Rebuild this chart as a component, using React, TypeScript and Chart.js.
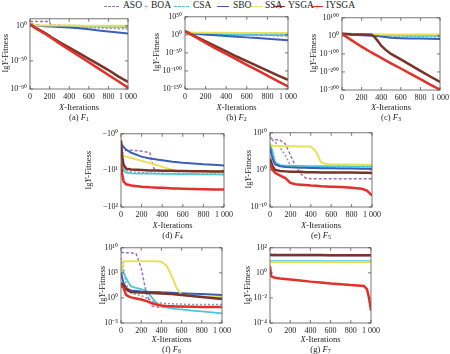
import React, { useEffect, useRef } from "react";
import { Chart, registerables } from "chart.js";
Chart.register(...registerables);

const FONT = "'Liberation Serif', 'Times New Roman', serif";

const SERIES = ["ASO", "BOA", "CSA", "SBO", "SSA", "YSGA", "IYSGA"];
const COLORS = ["#9c6fb6", "#8a93ad", "#4cc6d8", "#3a5fb6", "#e4e25a", "#7a3328", "#e2302b"];
const DASHES = [[3, 2], [2, 2], [], [], [], [], []];
const WIDTHS = [1.5, 1.5, 1.8, 2, 2, 2.5, 2.5];

const X_TICKS = [0, 200, 400, 600, 800, 1000];
const X_TICK_LABELS = ["0", "200", "400", "600", "800", "1 000"];

// (a) F1
const XA = [0, 50, 100, 150, 195, 215, 300, 400, 500, 600, 700, 800, 900, 1000];
const A_ASO = [1e6, 1e6, 1e6, 1e6, 1e6, 1e1, 5, 3, 2, 1.5, 1.2, 1, 1, 1];
const A_BOA = [1e3, 1e1, 1e0, 5e-1, 3e-1, 3e-1, 1e-1, 3e-2, 1e-2, 3e-3, 1e-3, 3e-4, 1e-4, 3e-5];
const A_CSA = [1e3, 1e1, 1e0, 8e-1, 7e-1, 7e-1, 5e-1, 3e-1, 2e-1, 1e-1, 7e-2, 5e-2, 3e-2, 2e-2];
const A_SBO = [1e3, 1e1, 1e0, 3e-1, 1e-1, 1e-1, 3e-2, 3e-3, 3e-4, 1e-5, 3e-7, 1e-8, 3e-10, 1e-11];
const A_SSA = [1e3, 1e1, 3, 2, 2, 2, 2, 2, 1.5, 1.5, 1.2, 1, 1, 1];
const A_YSGA = [1e2, 1e-2, 1e-6, 1e-10, 1e-14, 1e-16, 1e-23, 1e-31, 1e-39, 1e-47, 1e-55, 1e-63, 1e-72, 1e-80];
const A_IYSGA = [1e2, 1e-3, 1e-7, 1e-11, 1e-15, 1e-17, 1e-25, 1e-34, 1e-43, 1e-52, 1e-61, 1e-70, 1e-79, 1e-88];
const A_YTICKS = [1e0, 1e-50, 1e-90];

// (b) F2
const XB = [0, 50, 100, 200, 300, 400, 500, 600, 700, 800, 900, 1000];
const B_ASO = [1e9, 1e6, 1e5, 1e4, 1e3, 1e3, 1e2, 1e2, 1e2, 1e2, 1e2, 1e2];
const B_BOA = [1e9, 1e4, 1e3, 1e1, 1e0, 1e0, 1e-1, 1e-1, 1e-2, 1e-2, 1e-3, 1e-3];
const B_CSA = [1e9, 1e4, 1e2, 1e1, 1e1, 1e0, 1e0, 1e0, 1e-1, 1e-1, 1e-1, 1e-1];
const B_SBO = [1e9, 1e5, 1e3, 1e1, 1e-1, 1e-3, 1e-5, 1e-7, 1e-9, 1e-11, 1e-13, 1e-15];
const B_SSA = [1e9, 1e7, 1e6, 1e6, 1e6, 1e6, 1e5, 1e5, 1e5, 1e5, 1e5, 1e5];
const B_YSGA = [1e10, 1e3, 1e-4, 1e-18, 1e-32, 1e-46, 1e-60, 1e-73, 1e-86, 1e-99, 1e-112, 1e-125];
const B_IYSGA = [1e10, 1e2, 1e-6, 1e-22, 1e-38, 1e-53, 1e-68, 1e-83, 1e-98, 1e-113, 1e-128, 1e-143];
const B_YTICKS = [1e50, 1e0, 1e-50, 1e-100, 1e-150];

// (c) F3
const XC = [0, 100, 200, 300, 330, 360, 400, 440, 500, 600, 700, 800, 900, 1000];
const C_ASO = [1e12, 1e9, 1e8, 1e7, 1e7, 1e7, 1e6, 1e6, 1e6, 1e5, 1e5, 1e5, 1e5, 1e5];
const C_BOA = [1e12, 1e8, 1e6, 1e4, 1e4, 1e3, 1e2, 1e1, 1e0, 1e-1, 1e-2, 1e-3, 1e-4, 1e-5];
const C_CSA = [1e12, 1e9, 1e7, 1e5, 1e5, 1e4, 1e3, 1e3, 1e2, 1e1, 1e0, 1e0, 1e0, 1e0];
const C_SBO = [1e12, 1e6, 1e3, 1e1, 1e0, 1e-1, 1e-3, 1e-6, 1e-11, 1e-13, 1e-14, 1e-15, 1e-16, 1e-17];
const C_SSA = [1e12, 1e10, 1e9, 1e9, 1e9, 1e9, 1e8, 1e8, 1e8, 1e8, 1e8, 1e8, 1e8, 1e8];
const C_YSGA = [1e12, 1e9, 1e8, 1e6, 1e-5, 1e-25, 1e-55, 1e-75, 1e-100, 1e-130, 1e-162, 1e-194, 1e-225, 1e-255];
const C_IYSGA = [1e10, 1e-25, 1e-60, 1e-92, 1e-101, 1e-110, 1e-122, 1e-134, 1e-152, 1e-181, 1e-211, 1e-240, 1e-270, 1e-298];
const C_YTICKS = [1e100, 1e0, 1e-100, 1e-200, 1e-300];

// (d) F4 (magnitudes of negative fitness)
const XD = [0, 10, 25, 50, 100, 200, 280, 320, 360, 400, 500, 550, 600, 700, 800, 900, 1000];
const D_ASO = [5, 3.5, 3, 2.8, 2.8, 3, 3.3, 9, 10.2, 10.3, 10.4, 10.5, 10.5, 10.6, 10.7, 10.7, 10.8];
const D_BOA = [3, 5, 8, 10, 11, 11.5, 11.8, 12, 12, 12, 12.2, 12.2, 12.3, 12.4, 12.5, 12.6, 12.7];
const D_CSA = [2.5, 6, 10, 11.5, 12, 12.2, 12.3, 12.3, 12.4, 12.4, 12.5, 12.6, 12.6, 12.7, 12.8, 12.9, 13];
const D_SBO = [1.8, 2, 2.3, 2.7, 3.3, 4.2, 4.7, 4.9, 5.1, 5.3, 5.8, 6, 6.2, 6.5, 6.8, 7, 7.3];
const D_SSA = [3, 3.5, 4, 4.2, 4.6, 5.5, 6.3, 6.8, 7.3, 8, 9.8, 10.3, 10.4, 10.5, 10.6, 10.7, 10.8];
const D_YSGA = [1.5, 4, 7, 9, 9.5, 9.8, 10, 10, 10, 10.2, 10.3, 10.4, 10.4, 10.5, 10.6, 10.7, 10.8];
const D_IYSGA = [6, 12, 20, 24, 26, 28, 29, 29.3, 29.6, 30, 31, 31.3, 31.5, 32, 32.5, 33, 33];
const D_YTICKS = [1, 10, 100];

// (e) F5
const XE = [0, 25, 50, 100, 150, 200, 250, 300, 350, 400, 450, 500, 550, 600, 700, 800, 900, 950, 1000];
const E_ASO = [3e8, 2e8, 1.5e8, 1e8, 1e7, 1e4, 1e1, 1e-1, 6e-3, 4e-3, 4e-3, 4e-3, 4e-3, 4e-3, 4e-3, 4e-3, 4e-3, 4e-3, 4e-3];
const E_BOA = [1e9, 1e8, 3e7, 1e6, 1e4, 15, 6, 5, 4.5, 4, 4, 3.5, 3.5, 3.5, 3, 3, 3, 3, 3];
const E_CSA = [1e7, 1e5, 1e2, 20, 15, 13, 12, 12, 11, 11, 11, 10, 10, 10, 10, 9, 9, 9, 9];
const E_SBO = [1e6, 1e3, 30, 10, 6, 5, 4.5, 4, 4, 3.5, 3.5, 3, 3, 3, 2.5, 2.5, 2, 2, 2];
const E_SSA = [1e7, 3e6, 3e6, 2.5e6, 2.5e6, 2.5e6, 2.5e6, 2e6, 2e6, 2e6, 1e5, 1e2, 40, 30, 30, 30, 25, 25, 25];
const E_YSGA = [1e3, 10, 1, 0.5, 0.4, 0.3, 0.3, 0.3, 0.25, 0.25, 0.25, 0.2, 0.2, 0.2, 0.2, 0.2, 0.16, 0.16, 0.15];
const E_IYSGA = [30, 1, 0.16, 3e-2, 6e-3, 3e-4, 1.3e-4, 1e-4, 8e-5, 6e-5, 5e-5, 4e-5, 3.5e-5, 3e-5, 2.5e-5, 1.6e-5, 8e-6, 2.5e-6, 1.3e-7];
const E_YTICKS = [1e10, 1e0, 1e-10];

// (f) F6
const XF = [0, 25, 50, 75, 100, 150, 200, 250, 300, 350, 400, 450, 500, 550, 600, 700, 800, 900, 1000];
const F_ASO = [1.5e9, 1e9, 1e9, 1e9, 1e9, 6e8, 1e6, 10, 2.5e-2, 1.6e-2, 1.6e-2, 1.6e-2, 1.6e-2, 1.6e-2, 1.6e-2, 1.6e-2, 1.6e-2, 1.6e-2, 1.6e-2];
const F_BOA = [1e8, 1e6, 1e3, 30, 10, 5, 3, 1, 0.3, 0.1, 0.1, 8e-2, 7e-2, 6e-2, 6e-2, 5e-2, 5e-2, 5e-2, 5e-2];
const F_CSA = [1e6, 1e5, 1e4, 1e3, 200, 100, 60, 25, 1.6, 0.1, 2.5e-2, 1.3e-2, 8e-3, 6e-3, 5e-3, 3e-3, 2e-3, 1.3e-3, 8e-4];
const F_SBO = [1e5, 1e3, 100, 50, 30, 25, 20, 18, 16, 15, 13, 12, 11, 10, 9, 7, 6, 5, 4];
const F_SSA = [1e5, 2e7, 2e7, 2e7, 2e7, 2e7, 2e7, 2e7, 2e7, 2e7, 1.6e7, 3e6, 3e4, 100, 4, 2.5, 2, 1.6, 1.3];
const F_YSGA = [1e3, 300, 60, 25, 16, 13, 12, 11, 10, 9, 8, 7, 6, 5, 4, 2.5, 1.6, 1, 0.6];
const F_IYSGA = [300, 100, 4, 2, 1.3, 0.8, 0.5, 0.25, 0.1, 5e-2, 3e-2, 2.5e-2, 2.2e-2, 2e-2, 2e-2, 1.8e-2, 1.6e-2, 1.6e-2, 1.6e-2];
const F_YTICKS = [1e10, 1e5, 1e0, 1e-5];

// (g) F7
const XG = [0, 10, 20, 50, 100, 200, 300, 400, 500, 600, 700, 800, 900, 930, 960, 975, 990, 1000];
const G_ASO = [28, 27, 27, 27, 27, 27, 27, 27, 27, 27, 26, 26, 26, 26, 26, 26, 26, 26];
const G_BOA = [30, 29, 29, 29, 28, 28, 28, 28, 28, 28, 28, 28, 28, 28, 28, 28, 28, 28];
const G_CSA = [9, 8.5, 8.5, 8.5, 8.5, 8.5, 8.5, 8.5, 8.5, 8.5, 8.5, 8.5, 8.5, 8.5, 8.5, 8.5, 8.5, 8.5];
const G_SBO = [27, 26, 26, 26, 26, 26, 26, 26, 26, 26, 26, 26, 26, 26, 26, 26, 26, 26];
const G_SSA = [8, 7.5, 7.5, 7.5, 7.5, 7.5, 7.5, 7.5, 7.5, 7.5, 7.5, 7.5, 7.5, 7.5, 7.5, 7.5, 7.5, 7.5];
const G_YSGA = [30, 28, 27, 27, 27, 27, 27, 26.5, 26.5, 26, 26, 26, 25.5, 25.5, 25.5, 25.5, 25.5, 25];
const G_IYSGA = [3.3, 0.63, 0.49, 0.4, 0.35, 0.3, 0.25, 0.2, 0.17, 0.14, 0.126, 0.107, 0.095, 0.089, 0.05, 0.016, 0.0032, 0.001];
const G_YTICKS = [1e2, 1e0, 1e-2, 1e-4];

const SUP: Record<string, string> = {
  "0": "\u2070", "1": "\u00b9", "2": "\u00b2", "3": "\u00b3", "4": "\u2074",
  "5": "\u2075", "6": "\u2076", "7": "\u2077", "8": "\u2078", "9": "\u2079", "-": "\u207b",
};
const pow10 = (v: number) => {
  const e = Math.round(Math.log10(v));
  return "10" + String(e).split("").map((c) => SUP[c]).join("");
};

const YW = 34, PT = 6, PR = 16, XH = 16;

type PanelCfg = {
  key: string; fn: string; xs: number[]; series: number[][];
  min: number; max: number; ticks: number[]; neg?: boolean;
  box: { l: number; t: number; r: number; b: number };
  yTitleX: number; xTitleY: number; capY: number;
};

const PANELS: PanelCfg[] = [
  { key: "a", fn: "1", xs: XA, series: [A_ASO, A_BOA, A_CSA, A_SBO, A_SSA, A_YSGA, A_IYSGA], min: 1e-90, max: 1e10, ticks: A_YTICKS,
    box: { l: 30, t: 17, r: 128, b: 89 }, yTitleX: 5, xTitleY: 107, capY: 117 },
  { key: "b", fn: "2", xs: XB, series: [B_ASO, B_BOA, B_CSA, B_SBO, B_SSA, B_YSGA, B_IYSGA], min: 1e-150, max: 1e50, ticks: B_YTICKS,
    box: { l: 185, t: 15, r: 288, b: 89 }, yTitleX: 156, xTitleY: 107, capY: 117 },
  { key: "c", fn: "3", xs: XC, series: [C_ASO, C_BOA, C_CSA, C_SBO, C_SSA, C_YSGA, C_IYSGA], min: 1e-300, max: 1e100, ticks: C_YTICKS,
    box: { l: 342, t: 16, r: 440, b: 90 }, yTitleX: 313, xTitleY: 107, capY: 117 },
  { key: "d", fn: "4", xs: XD, series: [D_ASO, D_BOA, D_CSA, D_SBO, D_SSA, D_YSGA, D_IYSGA], min: 1, max: 100, ticks: D_YTICKS, neg: true,
    box: { l: 121, t: 132, r: 224, b: 207 }, yTitleX: 88, xTitleY: 225, capY: 235 },
  { key: "e", fn: "5", xs: XE, series: [E_ASO, E_BOA, E_CSA, E_SBO, E_SSA, E_YSGA, E_IYSGA], min: 1e-10, max: 1e10, ticks: E_YTICKS,
    box: { l: 270, t: 131, r: 372, b: 207 }, yTitleX: 248, xTitleY: 225, capY: 235 },
  { key: "f", fn: "6", xs: XF, series: [F_ASO, F_BOA, F_CSA, F_SBO, F_SSA, F_YSGA, F_IYSGA], min: 1e-5, max: 1e10, ticks: F_YTICKS,
    box: { l: 121, t: 246, r: 222, b: 323 }, yTitleX: 102, xTitleY: 339, capY: 349 },
  { key: "g", fn: "7", xs: XG, series: [G_ASO, G_BOA, G_CSA, G_SBO, G_SSA, G_YSGA, G_IYSGA], min: 1e-4, max: 1e2, ticks: G_YTICKS,
    box: { l: 270, t: 246, r: 371, b: 323 }, yTitleX: 247, xTitleY: 339, capY: 349 },
];

const boxPlugin = {
  id: "boxTicks",
  afterDatasetsDraw(chart: any) {
    const { ctx, chartArea: a, scales } = chart;
    ctx.save();
    ctx.strokeStyle = "#555";
    ctx.lineWidth = 0.8;
    ctx.strokeRect(a.left, a.top, a.right - a.left, a.bottom - a.top);
    ctx.beginPath();
    for (const t of scales.x.ticks) {
      const px = scales.x.getPixelForValue(t.value);
      ctx.moveTo(px, a.bottom); ctx.lineTo(px, a.bottom - 3);
      ctx.moveTo(px, a.top); ctx.lineTo(px, a.top + 3);
    }
    for (const t of scales.y.ticks) {
      const py = scales.y.getPixelForValue(t.value);
      ctx.moveTo(a.left, py); ctx.lineTo(a.left + 3, py);
      ctx.moveTo(a.right, py); ctx.lineTo(a.right - 3, py);
    }
    ctx.stroke();
    ctx.restore();
  },
};

function Panel({ cfg }: { cfg: PanelCfg }) {
  const ref = useRef<HTMLCanvasElement>(null);
  const { box } = cfg;
  const w = box.r - box.l + YW + PR;
  const h = box.b - box.t + PT + XH;
  useEffect(() => {
    const datasets = SERIES.map((name, i) => ({
      label: name,
      data: cfg.xs.map((x, j) => ({ x, y: cfg.series[i][j] })),
      borderColor: COLORS[i],
      backgroundColor: COLORS[i],
      borderWidth: WIDTHS[i],
      borderDash: DASHES[i],
      pointRadius: 0,
      fill: false,
      tension: 0,
      order: 6 - i,
    }));
    const chart = new Chart(ref.current!, {
      type: "line",
      data: { datasets },
      plugins: [boxPlugin],
      options: {
        responsive: false,
        animation: false,
        events: [],
        layout: { padding: { left: 0, top: PT, right: PR, bottom: 0 }, autoPadding: false },
        plugins: { legend: { display: false }, tooltip: { enabled: false } },
        scales: {
          x: {
            type: "linear", min: 0, max: 1000,
            afterBuildTicks: (s: any) => { s.ticks = X_TICKS.map((v) => ({ value: v })); },
            afterFit: (s: any) => { s.height = XH; },
            grid: { display: false, drawTicks: false },
            border: { display: false },
            ticks: {
              font: { family: FONT, size: 8 }, color: "#222", padding: 3, maxRotation: 0, autoSkip: false,
              callback: (v: any) => X_TICK_LABELS[X_TICKS.indexOf(Number(v))] ?? "",
            },
          },
          y: {
            type: "logarithmic", min: cfg.min, max: cfg.max, reverse: !!cfg.neg,
            afterBuildTicks: (s: any) => { s.ticks = cfg.ticks.map((v) => ({ value: v })); },
            afterFit: (s: any) => { s.width = YW; },
            grid: { display: false, drawTicks: false },
            border: { display: false },
            ticks: {
              font: { family: FONT, size: 8 }, color: "#222", padding: 3, autoSkip: false,
              callback: (v: any) => (cfg.neg ? "\u2212" : "") + pow10(Number(v)),
            },
          },
        },
      } as any,
    });
    return () => chart.destroy();
  }, []);
  return (
    <canvas
      ref={ref}
      width={w}
      height={h}
      style={{ position: "absolute", left: box.l - YW, top: box.t - PT, width: w, height: h }}
    />
  );
}

function Txt({ x, y, rot, size = 8.5, children }: any) {
  return (
    <div
      style={{
        position: "absolute", left: x, top: y, whiteSpace: "nowrap",
        transform: `translate(-50%, -50%)${rot ? " rotate(-90deg)" : ""}`,
        fontFamily: FONT, fontSize: size, color: "#222", lineHeight: 1,
      }}
    >
      {children}
    </div>
  );
}

const LEGEND = [
  { sym: [104, 119], text: 123, kind: "dash" },
  { sym: [143, 149], text: 151, kind: "plus" },
  { sym: [174, 189], text: 193, kind: "dash" },
  { sym: [217, 229], text: 233, kind: "line" },
  { sym: [251, 262], text: 265, kind: "dash" },
  { sym: [273, 285], text: 288, kind: "lineplus" },
  { sym: [311, 323], text: 326, kind: "lineplus" },
];

function Legend() {
  const y = 6;
  return (
    <>
      {LEGEND.map((it, i) => {
        const col = COLORS[i];
        const [a, b] = it.sym;
        const els: any[] = [];
        if (it.kind !== "plus") {
          els.push(
            <div key="l" style={{
              position: "absolute", left: a, top: y - 0.5, width: b - a, height: 0,
              borderTop: `1px ${it.kind === "dash" ? "dashed" : "solid"} ${col}`,
            }} />
          );
        }
        if (it.kind === "plus" || it.kind === "lineplus") {
          els.push(
            <div key="p" style={{
              position: "absolute", left: (a + b) / 2, top: y, transform: "translate(-50%,-50%)",
              fontFamily: FONT, fontSize: 9, color: col, lineHeight: 1,
            }}>+</div>
          );
        }
        return (
          <React.Fragment key={i}>
            {els}
            <div style={{
              position: "absolute", left: it.text, top: y, transform: "translateY(-50%)",
              fontFamily: FONT, fontSize: 9.5, color: "#222", lineHeight: 1, whiteSpace: "nowrap",
            }}>{SERIES[i]}</div>
          </React.Fragment>
        );
      })}
    </>
  );
}

export default function App() {
  return (
    <div style={{ position: "absolute", left: 0, top: 0, width: 450, height: 354, background: "#fff", overflow: "hidden" }}>
      <Legend />
      {PANELS.map((p) => (
        <React.Fragment key={p.key}>
          <Panel cfg={p} />
          <Txt x={p.yTitleX} y={(p.box.t + p.box.b) / 2} rot>
            lg<i>Y</i>-Fitness
          </Txt>
          <Txt x={(p.box.l + p.box.r) / 2} y={p.xTitleY}>
            <i>X</i>-Iterations
          </Txt>
          <Txt x={(p.box.l + p.box.r) / 2} y={p.capY}>
            ({p.key}) <i>F</i><sub style={{ fontSize: 6, verticalAlign: "-1px" }}>{p.fn}</sub>
          </Txt>
        </React.Fragment>
      ))}
    </div>
  );
}
